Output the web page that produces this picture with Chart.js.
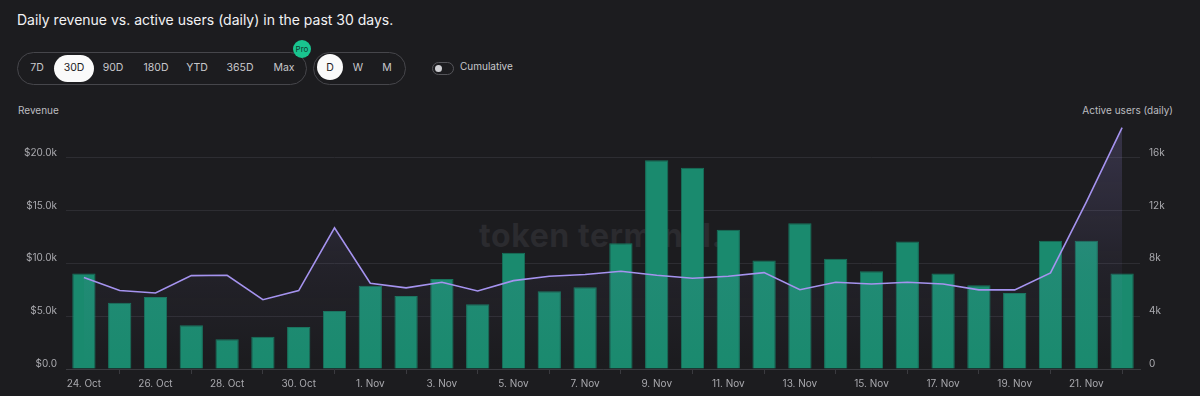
<!DOCTYPE html>
<html>
<head>
<meta charset="utf-8">
<script src="https://cdn.jsdelivr.net/npm/chart.js@4"></script>
<style>
  html, body { margin: 0; padding: 0; }
  body {
    width: 1200px; height: 396px; overflow: hidden; position: relative;
    background: #1c1c1f; font-family: Inter, "Noto Sans", sans-serif; color: #e8e8ea;
  }
  .title { position: absolute; left: 17px; top: 11px; font-size: 14px; color: #f2f2f4; }
  .pill { position: absolute; top: 52px; height: 31px; border: 1px solid #46464b; border-radius: 17px; }
  .opt { position: absolute; top: 60px; font-size: 10.5px; color: #c8c8cc; transform: translateX(-50%); line-height: 16px; }
  .sel { position: absolute; background: #fafafa; border-radius: 14px; }
  .opt.on { color: #1c1c1f; }
  .pro { position: absolute; left: 293px; top: 40px; width: 18px; height: 18px; border-radius: 9px;
         background: #19c48f; color: #0e3b2f; font-size: 8px; line-height: 18px; text-align: center; }
  .toggle { position: absolute; left: 432px; top: 62px; width: 20px; height: 11px; border: 1px solid #55555a; border-radius: 7px; }
  .toggle::after { content: ""; position: absolute; left: 2px; top: 2px; width: 7px; height: 7px; border-radius: 4px; background: #cfcfd3; }
  .cum { position: absolute; left: 460px; top: 60px; font-size: 10px; color: #c8c8cc; }
  .axt { position: absolute; top: 104px; font-size: 10px; color: #bcbcc0; }
  .wm { position: absolute; left: 479px; top: 220px; font-size: 32px; line-height: 1; font-weight: 700; color: #2b2b2f; letter-spacing: 0.6px; }
  canvas { position: absolute; left: 0; top: 100px; }
</style>
</head>
<body>
<div class="title">Daily revenue vs. active users (daily) in the past 30 days.</div>

<div class="pill" style="left:17px; width:288px;"></div>
<div class="sel" style="left:54px; top:55px; width:40px; height:27px;"></div>
<div class="opt" style="left:37px;">7D</div>
<div class="opt on" style="left:74px;">30D</div>
<div class="opt" style="left:113px;">90D</div>
<div class="opt" style="left:156px;">180D</div>
<div class="opt" style="left:197px;">YTD</div>
<div class="opt" style="left:240px;">365D</div>
<div class="opt" style="left:284px;">Max</div>
<div class="pro">Pro</div>

<div class="pill" style="left:313px; width:91px;"></div>
<div class="sel" style="left:317px; top:54px; width:26px; height:26px; border-radius:13px;"></div>
<div class="opt on" style="left:330px;">D</div>
<div class="opt" style="left:358px;">W</div>
<div class="opt" style="left:387px;">M</div>

<div class="toggle"></div>
<div class="cum">Cumulative</div>

<div class="axt" style="left:18px;">Revenue</div>
<div class="axt" style="right:27px;">Active users (daily)</div>
<div class="wm">token terminal.</div>

<canvas id="chart" width="1200" height="296"></canvas>

<script>
// days shown on the x axis
const days = [
  '24. Oct', '25. Oct', '26. Oct', '27. Oct', '28. Oct', '29. Oct', '30. Oct', '31. Oct',
  '1. Nov', '2. Nov', '3. Nov', '4. Nov', '5. Nov', '6. Nov', '7. Nov', '8. Nov',
  '9. Nov', '10. Nov', '11. Nov', '12. Nov', '13. Nov', '14. Nov', '15. Nov', '16. Nov',
  '17. Nov', '18. Nov', '19. Nov', '20. Nov', '21. Nov', '22. Nov'
];

// daily revenue in USD
const revenue = [
  9030, 6260, 6820, 4130, 2810, 3060, 3980, 5500,
  7870, 6920, 8530, 6130, 11000, 7360, 7740, 11900,
  19770, 19050, 13170, 10260, 13800, 10430, 9250, 12070,
  9030, 7930, 7200, 12130, 12130, 9030
];

// daily active users
const activeUsers = [
  6920, 5940, 5760, 7070, 7100, 5250, 5940, 10690,
  6490, 6140, 6570, 5910, 6690, 7020, 7150, 7400,
  7100, 6870, 7020, 7300, 6000, 6570, 6440, 6570,
  6440, 5990, 5990, 7280, 12630, 18270
];

// tick values of both y axes
const revTicks = [0, 5000, 10000, 15000, 20000];
const userTicks = [0, 4000, 8000, 12000, 16000];

const tickFont = { family: 'Inter, "Noto Sans", sans-serif', size: 10 };
const tickColor = '#a9a9ae';

const ctx = document.getElementById('chart').getContext('2d');
new Chart(ctx, {
  data: {
    labels: days,
    datasets: [
      {
        type: 'line',
        label: 'Active users (daily)',
        data: activeUsers,
        yAxisID: 'yUsers',
        borderColor: '#a593ef',
        borderWidth: 1.6,
        pointRadius: 0,
        tension: 0,
        fill: 'origin',
        backgroundColor: (c) => {
          const area = c.chart.chartArea;
          if (!area) return 'rgba(165,147,239,0.08)';
          const g = c.chart.ctx.createLinearGradient(0, area.top, 0, area.bottom);
          g.addColorStop(0, 'rgba(165,147,239,0.20)');
          g.addColorStop(0.6, 'rgba(165,147,239,0.05)');
          g.addColorStop(1, 'rgba(165,147,239,0.0)');
          return g;
        },
        order: 0
      },
      {
        type: 'bar',
        label: 'Revenue',
        data: revenue,
        yAxisID: 'yRev',
        backgroundColor: '#1a8a6e',
        borderColor: '#17735c',
        borderWidth: 1,
        barPercentage: 0.65,
        categoryPercentage: 1,
        order: 1
      }
    ]
  },
  options: {
    responsive: false,
    animation: false,
    layout: { padding: { top: 26, left: 0, right: 0, bottom: 0 } },
    plugins: { legend: { display: false }, tooltip: { enabled: false } },
    scales: {
      x: {
        type: 'category',
        offset: true,
        grid: { display: true, drawOnChartArea: false, tickLength: 5, color: '#3a3a3f' },
        border: { display: true, color: '#3a3a3f' },
        ticks: {
          autoSkip: false, maxRotation: 0, padding: 4, color: tickColor, font: tickFont,
          callback: (v, i) => (i % 2 === 0 ? days[i] : null)
        },
        afterFit: (s) => { s.height = 27; }
      },
      yRev: {
        position: 'left',
        min: 0,
        max: 23000,
        grid: { drawTicks: false, color: '#2d2d32' },
        border: { display: false },
        ticks: {
          autoSkip: false, padding: 9, labelOffset: -5, color: tickColor, font: tickFont,
          callback: (v) => (v === 0 ? '$0.0' : '$' + (v / 1000).toFixed(1) + 'k')
        },
        afterBuildTicks: (s) => { s.ticks = revTicks.map(v => ({ value: v })); },
        afterFit: (s) => { s.width = 66; }
      },
      yUsers: {
        position: 'right',
        min: 0,
        max: 18400,
        grid: { drawOnChartArea: false, drawTicks: false },
        border: { display: false },
        ticks: {
          autoSkip: false, padding: 9, labelOffset: -5, color: tickColor, font: tickFont,
          callback: (v) => (v === 0 ? '0' : (v / 1000) + 'k')
        },
        afterBuildTicks: (s) => { s.ticks = userTicks.map(v => ({ value: v })); },
        afterFit: (s) => { s.width = 60; }
      }
    }
  }
});
</script>
</body>
</html>
